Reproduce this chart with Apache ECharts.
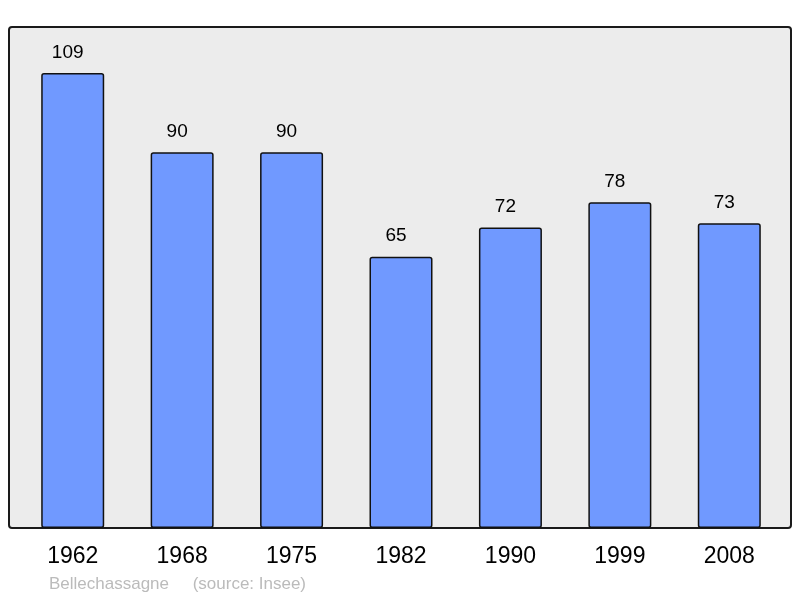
<!DOCTYPE html>
<html>
<head>
<meta charset="utf-8">
<script src="https://cdn.jsdelivr.net/npm/echarts@6/dist/echarts.min.js"></script>
<style>
  html, body { margin: 0; padding: 0; background: #fff; }
  #chart { width: 800px; height: 598px; }
</style>
</head>
<body>
<div id="chart"></div>
<script>
// population by census year
var years = ['1962', '1968', '1975', '1982', '1990', '1999', '2008'];
var population = [109, 90, 90, 65, 72, 78, 73];
var placeName = 'Bellechassagne';
var sourceText = '(source: Insee)';

var chart = echarts.init(document.getElementById('chart'), null, { renderer: 'canvas' });

var option = {
  animation: false,
  backgroundColor: '#ffffff',
  title: {
    text: placeName + '     ' + sourceText,
    left: 44,
    top: 571,
    textStyle: {
      color: '#bbbbbb',
      fontFamily: 'Liberation Sans',
      fontWeight: 'normal',
      fontSize: 17
    }
  },
  // frame behind the bars
  graphic: [{
    type: 'rect',
    z: -10,
    shape: { x: 9, y: 27, width: 782, height: 501, r: 3 },
    style: { fill: '#ececec', stroke: '#1a1a1a', lineWidth: 2 }
  }],
  grid: {
    left: 18,
    right: 16,
    top: 27,
    bottom: 70
  },
  xAxis: {
    type: 'category',
    data: years,
    axisLine: { show: false },
    axisTick: { show: false },
    axisLabel: {
      color: '#000',
      fontFamily: 'Liberation Sans',
      fontSize: 23,
      margin: 17
    }
  },
  yAxis: {
    type: 'value',
    min: 0,
    max: 120,
    show: false,
    splitLine: { show: false }
  },
  series: [{
    type: 'bar',
    data: population,
    barWidth: 63,
    itemStyle: {
      color: '#7099ff',
      borderColor: '#111',
      borderWidth: 1.5,
      borderRadius: 2
    },
    label: {
      show: true,
      position: 'top',
      distance: 11,
      offset: [-5, 0],
      color: '#000',
      fontFamily: 'Liberation Sans',
      fontSize: 19
    }
  }]
};

chart.setOption(option);
</script>
</body>
</html>
